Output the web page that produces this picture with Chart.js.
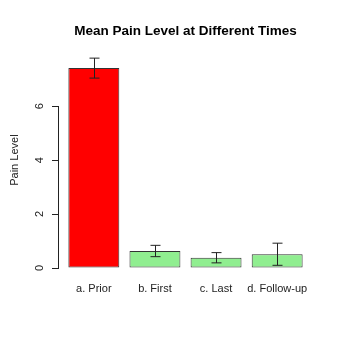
<!DOCTYPE html>
<html>
<head>
<meta charset="utf-8">
<script src="https://cdn.jsdelivr.net/npm/chart.js@4/dist/chart.umd.min.js"></script>
<style>
  html, body { margin: 0; padding: 0; background: #fff; }
  #wrap { width: 342px; height: 339px; }
</style>
</head>
<body>
<div id="wrap"><canvas id="chart" width="342" height="339"></canvas></div>
<script>
const categories = ["a. Prior", "b. First", "c. Last", "d. Follow-up"]
const meanPain = [7.41, 0.63, 0.38, 0.51]
const errPain = [0.37, 0.21, 0.19, 0.41]
const barColors = ["#ff0000", "#90ee90", "#90ee90", "#90ee90"]
const yTicks = [0, 2, 4, 6]

const FONT = "'Liberation Sans', Arial, sans-serif"
const INK = "#222"

// axis line only spans the tick range, plus error bars with caps
const extras = {
  id: "extras",
  afterDatasetsDraw(chart) {
    const { ctx, chartArea, scales: { y } } = chart
    const meta = chart.getDatasetMeta(0)
    ctx.save()
    ctx.strokeStyle = INK
    ctx.lineWidth = 1

    const ax = Math.round(chartArea.left) - 0.5
    ctx.beginPath()
    ctx.moveTo(ax, y.getPixelForValue(yTicks[0]))
    ctx.lineTo(ax, y.getPixelForValue(yTicks[yTicks.length - 1]))
    ctx.stroke()

    meta.data.forEach((bar, i) => {
      const x = Math.round(bar.x) + 0.5
      const top = y.getPixelForValue(meanPain[i] + errPain[i])
      const bot = y.getPixelForValue(meanPain[i] - errPain[i])
      ctx.beginPath()
      ctx.moveTo(x, top); ctx.lineTo(x, bot)
      ctx.moveTo(x - 5, top); ctx.lineTo(x + 5, top)
      ctx.moveTo(x - 5, bot); ctx.lineTo(x + 5, bot)
      ctx.stroke()
    })
    ctx.restore()
  }
}

new Chart(document.getElementById("chart"), {
  type: "bar",
  data: {
    datasets: [{
      data: meanPain.map((v, i) => ({ x: i + 1, y: v })),
      backgroundColor: barColors,
      borderColor: "#333",
      borderWidth: 1,
      borderSkipped: false,
      categoryPercentage: 1,
      barPercentage: 1 / 1.2
    }]
  },
  options: {
    responsive: false,
    animation: false,
    layout: { padding: { left: 0, right: 30, top: 0, bottom: 0 } },
    plugins: {
      legend: { display: false },
      tooltip: { enabled: false },
      title: {
        display: true,
        fullSize: false,
        text: "Mean Pain Level at Different Times",
        color: "#000",
        font: { family: FONT, size: 13.5, weight: "bold" },
        padding: { top: 23, bottom: 13 }
      }
    },
    scales: {
      x: {
        type: "linear",
        offset: false,
        min: 0.43,
        max: 4.57,
        afterBuildTicks: s => { s.ticks = categories.map((c, i) => ({ value: i + 1 })) },
        afterFit: s => { s.height = 71 },
        ticks: {
          callback: v => categories[v - 1],
          color: INK,
          font: { family: FONT, size: 11 },
          padding: 6,
          autoSkip: false,
          maxRotation: 0
        },
        grid: { display: false },
        border: { display: false }
      },
      y: {
        min: 0,
        max: 8,
        afterBuildTicks: s => { s.ticks = yTicks.map(v => ({ value: v })) },
        afterFit: s => { s.width = 59 },
        ticks: {
          color: INK,
          font: { family: FONT, size: 11 },
          minRotation: 90,
          maxRotation: 90,
          crossAlign: "center",
          padding: 9
        },
        grid: { drawOnChartArea: false, drawTicks: true, tickLength: 7, color: INK },
        border: { display: false },
        title: {
          display: true,
          text: "Pain Level",
          color: INK,
          font: { family: FONT, size: 11 },
          padding: { top: 8, bottom: 0 }
        }
      }
    }
  },
  plugins: [extras]
})
</script>
</body>
</html>
